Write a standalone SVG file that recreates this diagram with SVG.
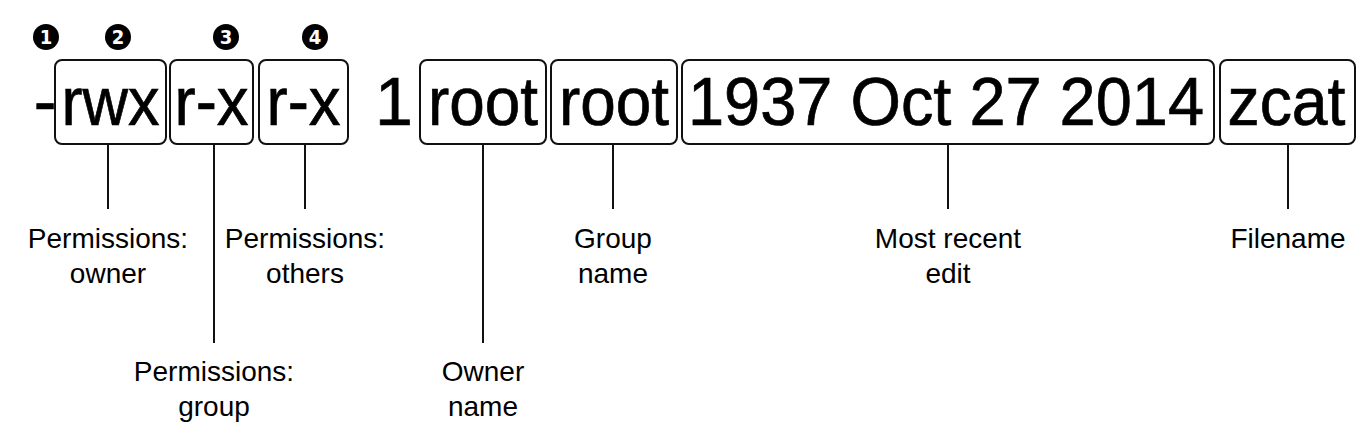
<svg xmlns="http://www.w3.org/2000/svg" width="1368" height="440" viewBox="0 0 1368 440">
<style>
.bg{fill:#ffffff}
.box{fill:none;stroke:#111;stroke-width:2}
.big{font-family:"Liberation Sans",Arial,sans-serif;font-size:68px;fill:#000;stroke:#000;stroke-width:0.7;text-anchor:middle}
.lbl{font-family:"Liberation Sans",Arial,sans-serif;font-size:28px;fill:#000;text-anchor:middle}
.num{fill:#000}
.numt{font-family:"Liberation Sans Narrow","DejaVu Sans Condensed","Liberation Sans",sans-serif;font-weight:bold;font-size:20px;fill:#fff;text-anchor:middle}
.conn line{stroke:#111;stroke-width:2}
</style>
<rect class="bg" x="0" y="0" width="1368" height="440"/>
<g id="callouts">
<g id="c1"><circle class="num" cx="46" cy="37" r="13"/><text class="numt" x="46" y="44">1</text></g>
<g id="c2"><circle class="num" cx="118" cy="37" r="13"/><text class="numt" x="118" y="44">2</text></g>
<g id="c3"><circle class="num" cx="226" cy="37" r="13"/><text class="numt" x="226" y="44">3</text></g>
<g id="c4"><circle class="num" cx="315" cy="37" r="13"/><text class="numt" x="315" y="44">4</text></g>
</g>
<g id="filetype"><text class="big" x="45" y="125">-</text></g>
<g id="perm-owner"><rect class="box" x="55" y="60" width="111" height="84" rx="7"/><text class="big" x="110.5" y="125" textLength="98" lengthAdjust="spacingAndGlyphs">rwx</text></g>
<g id="perm-group"><rect class="box" x="170" y="60" width="83" height="84" rx="7"/><text class="big" x="211.5" y="125" textLength="74" lengthAdjust="spacingAndGlyphs">r-x</text></g>
<g id="perm-others"><rect class="box" x="259" y="60" width="89" height="84" rx="7"/><text class="big" x="303.5" y="125" textLength="74" lengthAdjust="spacingAndGlyphs">r-x</text></g>
<g id="links"><text class="big" x="394" y="125">1</text></g>
<g id="owner"><rect class="box" x="420" y="60" width="126" height="84" rx="7"/><text class="big" x="483" y="125" textLength="110" lengthAdjust="spacingAndGlyphs">root</text></g>
<g id="group"><rect class="box" x="551" y="60" width="126" height="84" rx="7"/><text class="big" x="614" y="125" textLength="110" lengthAdjust="spacingAndGlyphs">root</text></g>
<g id="date"><rect class="box" x="682" y="60" width="532" height="84" rx="7"/><text class="big" x="946" y="125" textLength="516" lengthAdjust="spacingAndGlyphs">1937 Oct 27 2014</text></g>
<g id="filename"><rect class="box" x="1220" y="60" width="135" height="84" rx="7"/><text class="big" x="1286.5" y="125" textLength="118" lengthAdjust="spacingAndGlyphs">zcat</text></g>
<g class="conn" id="connectors">
<line x1="108" y1="144" x2="108" y2="209"/>
<line x1="214" y1="144" x2="214" y2="343"/>
<line x1="305" y1="144" x2="305" y2="209"/>
<line x1="483" y1="144" x2="483" y2="343"/>
<line x1="613" y1="144" x2="613" y2="209"/>
<line x1="948" y1="144" x2="948" y2="209"/>
<line x1="1288" y1="144" x2="1288" y2="209"/>
</g>
<g id="lbl-owner"><text class="lbl" x="108" y="248">Permissions:</text><text class="lbl" x="108" y="283">owner</text></g>
<g id="lbl-group"><text class="lbl" x="214" y="381">Permissions:</text><text class="lbl" x="214" y="416">group</text></g>
<g id="lbl-others"><text class="lbl" x="305" y="248">Permissions:</text><text class="lbl" x="305" y="283">others</text></g>
<g id="lbl-ownername"><text class="lbl" x="483" y="381">Owner</text><text class="lbl" x="483" y="416">name</text></g>
<g id="lbl-groupname"><text class="lbl" x="613" y="248">Group</text><text class="lbl" x="613" y="283">name</text></g>
<g id="lbl-date"><text class="lbl" x="948" y="248">Most recent</text><text class="lbl" x="948" y="283">edit</text></g>
<g id="lbl-filename"><text class="lbl" x="1288" y="248">Filename</text></g>
</svg>
